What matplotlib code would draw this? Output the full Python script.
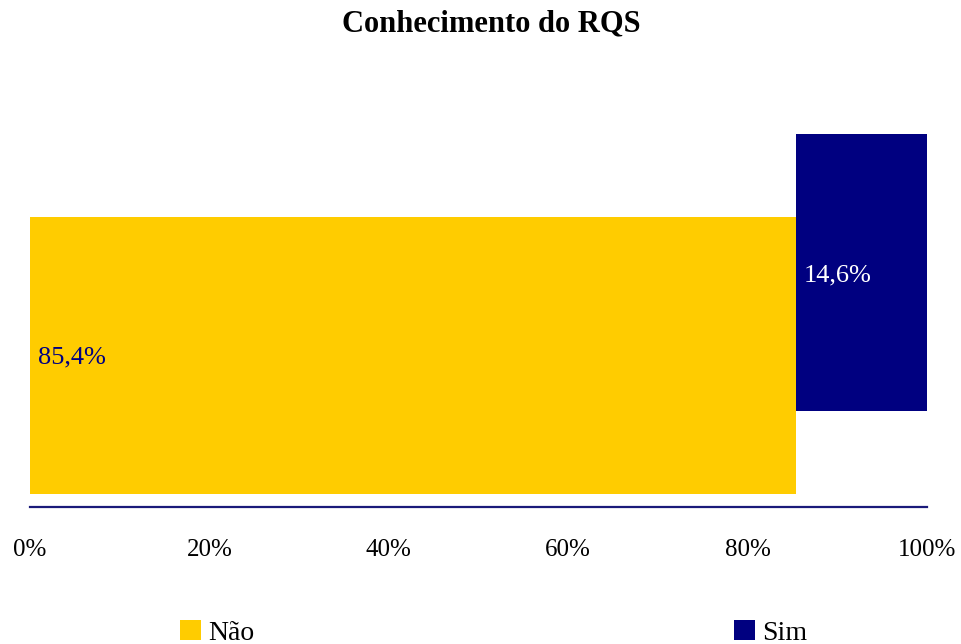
import matplotlib
matplotlib.use("Agg")
import matplotlib.pyplot as plt
from matplotlib.patches import Patch

# Data
categories = ["Não", "Sim"]
shares = [85.4, 14.6]
value_labels = ["85,4%", "14,6%"]
tick_values = [0, 20, 40, 60, 80, 100]
tick_labels = ["0%", "20%", "40%", "60%", "80%", "100%"]
title = "Conhecimento do RQS"

# Style
colors = ["#FFCC00", "#000080"]
label_colors = ["#000080", "#FFFFFF"]
serif = ["Liberation Serif", "DejaVu Serif"]

W, H, DPI = 962, 644, 100
fig = plt.figure(figsize=(W / DPI, H / DPI), dpi=DPI)
fig.patch.set_facecolor("white")

# axes: x 30..927 px, y from axis line (507) up to 100
ax_left, ax_right = 30, 927
ax_bottom, ax_top = 507, 100
ax = fig.add_axes([ax_left / W, 1 - ax_bottom / H,
                   (ax_right - ax_left) / W, (ax_bottom - ax_top) / H])

bar_height = 0.68
base_center = 0.373     # first segment centre
depth_step = 0.203      # each following segment is raised by this much

left = 0.0
for i, (cat, val) in enumerate(zip(categories, shares)):
    yc = base_center + i * depth_step
    ax.barh(yc, val, left=left, height=bar_height, color=colors[i],
            edgecolor="none", zorder=2)
    ax.text(left + 0.9, yc - 0.006, value_labels[i], ha="left", va="center",
            color=label_colors[i], fontsize=19, family=serif, zorder=3)
    left += val

ax.set_xlim(0, 100)
ax.set_ylim(0, 1)
ax.set_yticks([])
ax.set_xticks(tick_values)
ax.set_xticklabels(tick_labels, family=serif, fontsize=18)
ax.tick_params(axis="x", length=0, pad=23)
for s in ("top", "right", "left"):
    ax.spines[s].set_visible(False)
ax.spines["bottom"].set_color("#1a1a7a")
ax.spines["bottom"].set_linewidth(1.6)
ax.set_facecolor("none")

fig.text(491 / W, 1 - 24 / H, title, ha="center", va="center",
         fontsize=22, fontweight="bold", family=serif)

handles = [Patch(facecolor=c, edgecolor="none") for c in colors]
leg = fig.legend(handles, categories, loc="center left",
                 bbox_to_anchor=(180 / W, 1 - 633 / H), ncol=2,
                 frameon=False, prop={"family": serif, "size": 20},
                 handlelength=0.75, handleheight=0.75, handletextpad=0.25,
                 columnspacing=17.3, borderpad=0, borderaxespad=0)

fig.savefig("out.png", dpi=DPI)
